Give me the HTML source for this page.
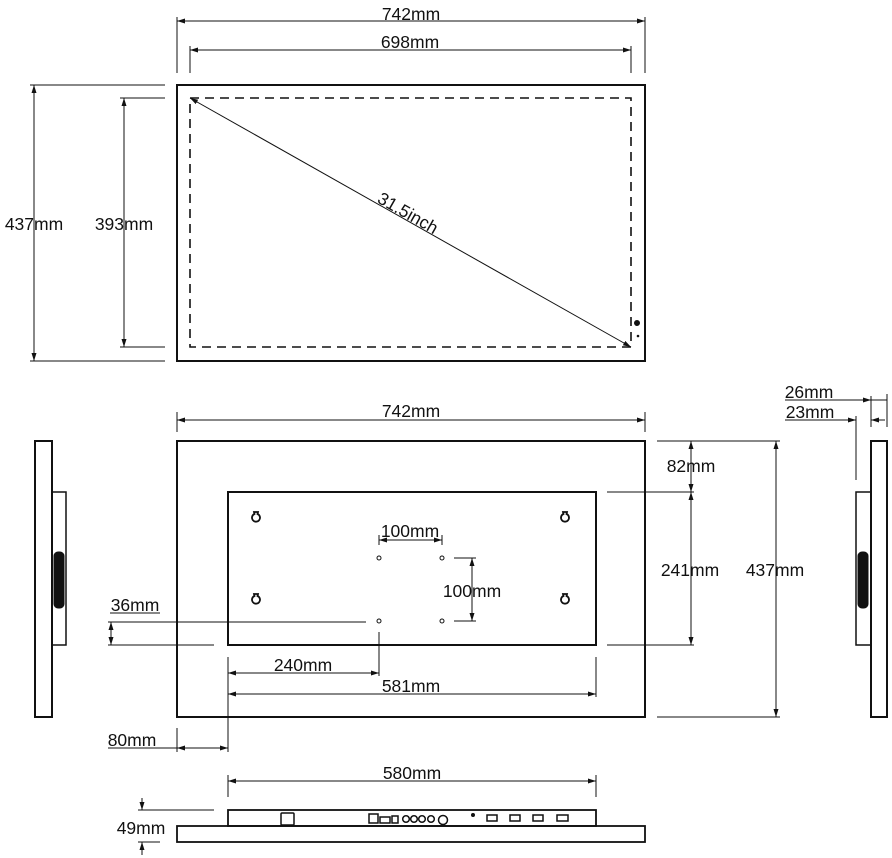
<!DOCTYPE html>
<html><head><meta charset="utf-8"><style>
html,body{margin:0;padding:0;background:#fff;}
svg{display:block;}
text{font-family:"Liberation Sans",Arial,sans-serif;font-size:17.5px;fill:#111;}
</style></head><body>
<svg width="892" height="858" viewBox="0 0 892 858" xmlns="http://www.w3.org/2000/svg">
<defs>
<marker id="a" markerWidth="8" markerHeight="6" refX="8" refY="3" orient="auto-start-reverse" markerUnits="userSpaceOnUse"><path d="M0,0.5 L8,3 L0,5.5Z" fill="#111"/></marker>
</defs>
<g stroke="#111" fill="none" stroke-width="1">
<rect x="177" y="85" width="468" height="276" stroke-width="2"/>
<rect x="190" y="98" width="441" height="249" stroke-width="1.6" stroke-dasharray="9,6"/>
<line x1="190" y1="98" x2="631" y2="347" marker-start="url(#a)" marker-end="url(#a)"/>
<line x1="177" y1="21" x2="645" y2="21" marker-start="url(#a)" marker-end="url(#a)"/>
<line x1="177" y1="17" x2="177" y2="73"/><line x1="645" y1="17" x2="645" y2="73"/>
<line x1="190" y1="50" x2="631" y2="50" marker-start="url(#a)" marker-end="url(#a)"/>
<line x1="190" y1="46" x2="190" y2="73"/><line x1="631" y1="46" x2="631" y2="73"/>
<line x1="34" y1="85" x2="34" y2="361" marker-start="url(#a)" marker-end="url(#a)"/>
<line x1="30" y1="85" x2="165" y2="85"/><line x1="30" y1="361" x2="165" y2="361"/>
<line x1="124" y1="98" x2="124" y2="347" marker-start="url(#a)" marker-end="url(#a)"/>
<line x1="120" y1="98" x2="165" y2="98"/><line x1="120" y1="347" x2="165" y2="347"/>
<rect x="177" y="441" width="468" height="276" stroke-width="2"/>
<rect x="228" y="492" width="368" height="153" stroke-width="2"/>
<line x1="177" y1="420" x2="645" y2="420" marker-start="url(#a)" marker-end="url(#a)"/>
<line x1="177" y1="412" x2="177" y2="432"/><line x1="645" y1="412" x2="645" y2="432"/>
<rect x="35" y="441" width="17" height="276" stroke-width="2"/>
<rect x="52" y="492" width="14" height="153" stroke-width="1.5"/>
<rect x="54" y="552" width="10" height="56" rx="4" fill="#111"/>
<rect x="871" y="441" width="16" height="276" stroke-width="2"/>
<rect x="856" y="492" width="15" height="153" stroke-width="1.5"/>
<rect x="858" y="552" width="10" height="56" rx="4" fill="#111"/>
<line x1="785" y1="400" x2="887" y2="400"/>
<line x1="860" y1="400" x2="871" y2="400" marker-end="url(#a)"/>
<line x1="871" y1="396" x2="871" y2="427"/><line x1="887" y1="394" x2="887" y2="427"/>
<line x1="785" y1="420" x2="856" y2="420" marker-end="url(#a)"/>
<line x1="885" y1="420" x2="871" y2="420" marker-end="url(#a)"/>
<line x1="856" y1="416" x2="856" y2="480"/>
<g stroke-width="1.8">
<path d="M254,512 L258,512 L257.5,514 A4,4 0 1 1 254.5,514 Z"/>
<path d="M563,512 L567,512 L566.5,514 A4,4 0 1 1 563.5,514 Z"/>
<path d="M254,594 L258,594 L257.5,596 A4,4 0 1 1 254.5,596 Z"/>
<path d="M563,594 L567,594 L566.5,596 A4,4 0 1 1 563.5,596 Z"/>
</g>
<circle cx="379" cy="558" r="2"/><circle cx="442" cy="558" r="2"/>
<circle cx="379" cy="621" r="2"/><circle cx="442" cy="621" r="2"/>
<line x1="379" y1="540" x2="442" y2="540" marker-start="url(#a)" marker-end="url(#a)"/>
<line x1="379" y1="535" x2="379" y2="545"/><line x1="442" y1="535" x2="442" y2="545"/>
<line x1="454" y1="558" x2="476" y2="558"/><line x1="454" y1="621" x2="476" y2="621"/>
<line x1="472" y1="558" x2="472" y2="621" marker-start="url(#a)" marker-end="url(#a)"/>
<line x1="110" y1="613" x2="160" y2="613"/>
<line x1="108" y1="622" x2="366" y2="622"/>
<line x1="108" y1="645" x2="214" y2="645"/>
<line x1="111" y1="622" x2="111" y2="645" marker-start="url(#a)" marker-end="url(#a)"/>
<line x1="228" y1="657" x2="228" y2="752"/>
<line x1="379" y1="632" x2="379" y2="676"/>
<line x1="596" y1="657" x2="596" y2="697"/>
<line x1="228" y1="673" x2="379" y2="673" marker-start="url(#a)" marker-end="url(#a)"/>
<line x1="228" y1="694" x2="596" y2="694" marker-start="url(#a)" marker-end="url(#a)"/>
<line x1="108" y1="748" x2="177" y2="748"/>
<line x1="177" y1="728" x2="177" y2="752"/>
<line x1="177" y1="748" x2="228" y2="748" marker-start="url(#a)" marker-end="url(#a)"/>
<line x1="657" y1="441" x2="780" y2="441"/>
<line x1="657" y1="717" x2="780" y2="717"/>
<line x1="607" y1="492" x2="694" y2="492"/>
<line x1="607" y1="645" x2="694" y2="645"/>
<line x1="691" y1="441" x2="691" y2="492" marker-start="url(#a)" marker-end="url(#a)"/>
<line x1="691" y1="492" x2="691" y2="645" marker-start="url(#a)" marker-end="url(#a)"/>
<line x1="776" y1="441" x2="776" y2="717" marker-start="url(#a)" marker-end="url(#a)"/>
<line x1="228" y1="781" x2="596" y2="781" marker-start="url(#a)" marker-end="url(#a)"/>
<line x1="228" y1="775" x2="228" y2="797"/><line x1="596" y1="775" x2="596" y2="797"/>
<rect x="228" y="810" width="368" height="16" stroke-width="1.8"/>
<rect x="177" y="826" width="468" height="16" stroke-width="1.8"/>
<line x1="138" y1="810" x2="214" y2="810"/>
<line x1="138" y1="842" x2="160" y2="842"/>
<line x1="142" y1="798" x2="142" y2="810" marker-end="url(#a)"/>
<line x1="142" y1="855" x2="142" y2="842" marker-end="url(#a)"/>
<g stroke-width="1.5">
<rect x="281" y="813" width="13" height="12" rx="1"/>
<rect x="369" y="814" width="9" height="9"/>
<rect x="380" y="817" width="10" height="6"/>
<rect x="392" y="816" width="6" height="7"/>
<circle cx="406" cy="819" r="3.3"/><circle cx="414" cy="819" r="3.3"/><circle cx="422" cy="819" r="3.3"/><circle cx="431" cy="819" r="3.3"/><circle cx="443" cy="820" r="4.5"/>
<rect x="487" y="815" width="10" height="6"/>
<rect x="510" y="815" width="10" height="6"/>
<rect x="533" y="815" width="10" height="6"/>
<rect x="557" y="815" width="11" height="6"/>
</g>
</g>
<circle cx="473" cy="815" r="2" fill="#111"/>
<circle cx="637" cy="323" r="3" fill="#111"/>
<circle cx="638" cy="336" r="1.3" fill="#111"/>
<text x="411" y="20" text-anchor="middle">742mm</text>
<text x="410" y="48" text-anchor="middle">698mm</text>
<text x="34" y="230" text-anchor="middle">437mm</text>
<text x="124" y="230" text-anchor="middle">393mm</text>
<text x="408" y="219" text-anchor="middle" transform="rotate(29.5 408 213)">31.5inch</text>
<text x="411" y="417" text-anchor="middle">742mm</text>
<text x="809" y="398" text-anchor="middle">26mm</text>
<text x="810" y="418" text-anchor="middle">23mm</text>
<text x="410" y="537" text-anchor="middle">100mm</text>
<text x="472" y="597" text-anchor="middle">100mm</text>
<text x="135" y="611" text-anchor="middle">36mm</text>
<text x="303" y="671" text-anchor="middle">240mm</text>
<text x="411" y="692" text-anchor="middle">581mm</text>
<text x="132" y="746" text-anchor="middle">80mm</text>
<text x="691" y="472" text-anchor="middle">82mm</text>
<text x="690" y="576" text-anchor="middle">241mm</text>
<text x="775" y="576" text-anchor="middle">437mm</text>
<text x="412" y="779" text-anchor="middle">580mm</text>
<text x="141" y="834" text-anchor="middle">49mm</text>
</svg>
</body></html>
